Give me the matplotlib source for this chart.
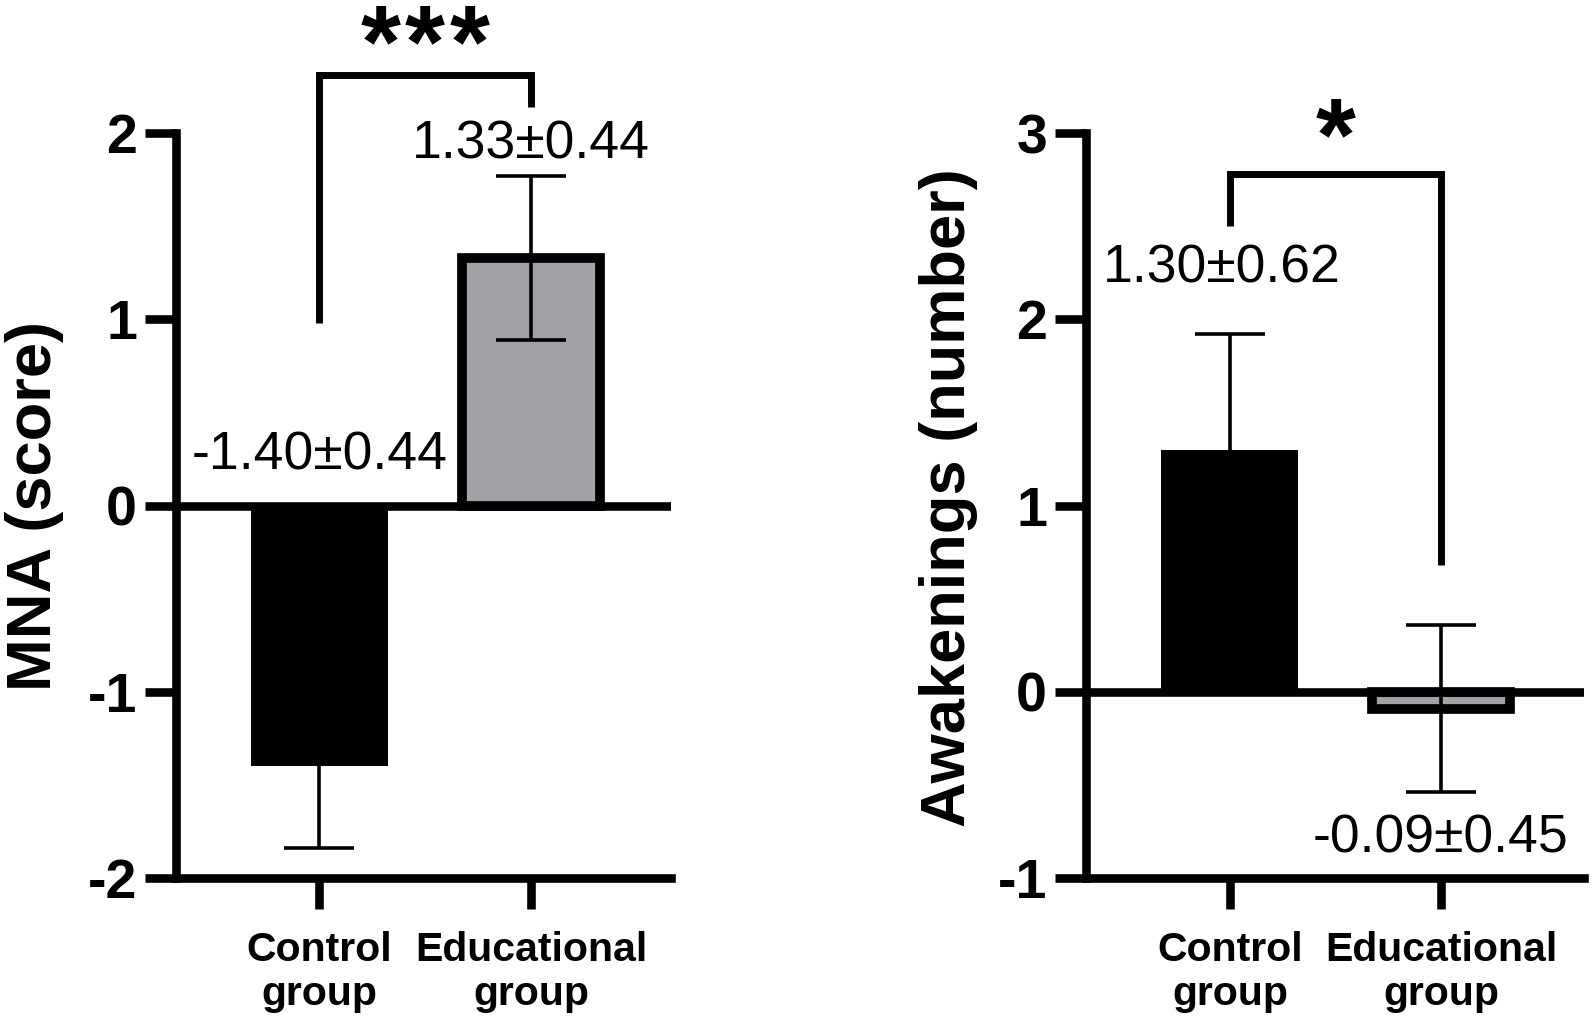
import matplotlib
matplotlib.use("Agg")
import matplotlib.pyplot as plt

plt.rcParams['font.family'] = ['Liberation Sans', 'DejaVu Sans']

groups = ["Control\ngroup", "Educational\ngroup"]
mna_mean = [-1.40, 1.33]
mna_se = [0.44, 0.44]
awk_mean = [1.30, -0.09]
awk_se = [0.62, 0.45]
mna_labels = ["-1.40±0.44", "1.33±0.44"]
awk_labels = ["1.30±0.62", "-0.09±0.45"]
bar_colors = ["#000000", "#A2A2A6"]

W, H = 1595, 1021
fig = plt.figure(figsize=(W / 100, H / 100), dpi=100)

def px_axes(x0, x1, y0, y1):
    return fig.add_axes([x0 / W, 1 - y1 / H, (x1 - x0) / W, (y1 - y0) / H])

ax1 = px_axes(176, 671, 133, 878)
ax2 = px_axes(1086, 1584, 133, 878)

LW = 6.2

def style(ax, xlim, ylim, yticks):
    ax.set_xlim(*xlim)
    ax.set_ylim(*ylim)
    ax.set_yticks(yticks)
    ax.set_yticklabels([str(t) for t in yticks], fontsize=40, fontweight='bold')
    ax.set_xticks([0, 1])
    ax.set_xticklabels(groups, fontsize=29.5, fontweight='bold', linespacing=1.22)
    for s in ['top', 'right']:
        ax.spines[s].set_visible(False)
    for s in ['left', 'bottom']:
        ax.spines[s].set_linewidth(LW)
        ax.spines[s].set_capstyle('projecting')
    ax.tick_params(axis='both', width=LW, length=22)
    ax.tick_params(axis='y', pad=6)
    ax.tick_params(axis='x', pad=16)
    ax.axhline(0, color='black', lw=LW, zorder=5, solid_capstyle='butt')

def draw(ax, means, ses):
    x = [0, 1]
    ax.bar(x, means, width=0.65, color=bar_colors, edgecolor='black',
           linewidth=[0, 7], zorder=3)
    ax.errorbar(x, means, yerr=ses, fmt='none', ecolor='black', elinewidth=2.6,
                capsize=25, capthick=2.6, zorder=4)

def bracket(ax, y_left, y_top, y_right):
    ax.plot([0, 0, 1, 1], [y_left, y_top, y_top, y_right], color='black',
            lw=5, solid_joinstyle='miter', solid_capstyle='butt',
            clip_on=False, zorder=6)

def stars(ax, n, y):
    pitch = 0.212
    for i in range(n):
        xs = 0.5 + (i - (n - 1) / 2) * pitch
        ax.text(xs, y, "*", ha='center', va='baseline', fontsize=74,
                fontweight='bold', clip_on=False)

# Left panel
style(ax1, (-0.678, 1.662), (-2, 2), [-2, -1, 0, 1, 2])
draw(ax1, mna_mean, mna_se)
bracket(ax1, 0.98, 2.31, 2.14)
stars(ax1, 3, 2.30)
ax1.text(0.0, 0.27, mna_labels[0], ha='center', va='center', fontsize=38.5)
ax1.text(1.0, 1.94, mna_labels[1], ha='center', va='center', fontsize=38.5)
ax1.set_ylabel("MNA (score)", fontsize=45.5, fontweight='bold', va='center')
ax1.yaxis.set_label_coords(-0.285, 0.5)

# Right panel
style(ax2, (-0.682, 1.678), (-1, 3), [-1, 0, 1, 2, 3])
draw(ax2, awk_mean, awk_se)
bracket(ax2, 2.50, 2.78, 0.68)
stars(ax2, 1, 2.80)
ax2.text(-0.04, 2.27, awk_labels[0], ha='center', va='center', fontsize=38.5)
ax2.text(1.0, -0.79, awk_labels[1], ha='center', va='center', fontsize=38.5)
ax2.set_ylabel("Awakenings (number)", fontsize=45.5, fontweight='bold', va='center')
ax2.yaxis.set_label_coords(-0.277, 0.51)

fig.savefig("out.png", dpi=100)
